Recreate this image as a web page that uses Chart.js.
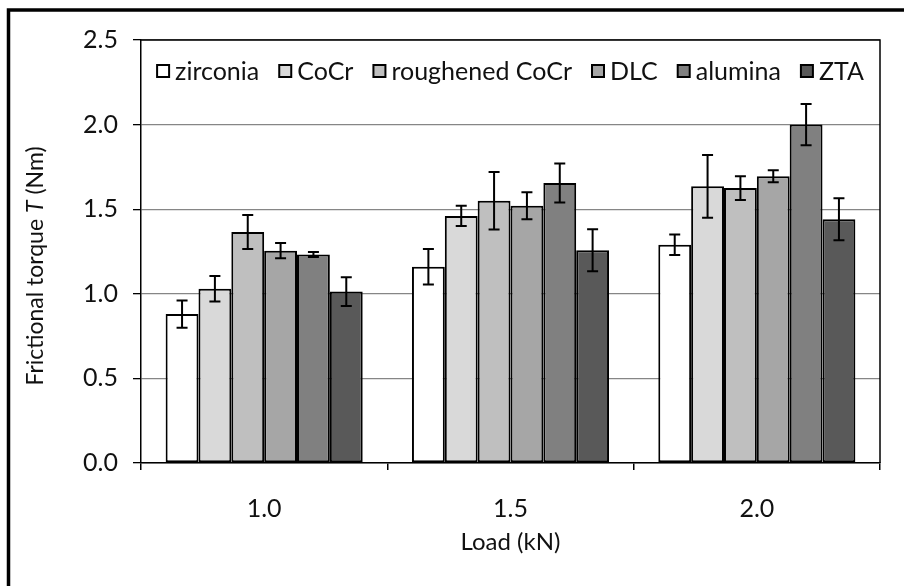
<!DOCTYPE html>
<html>
<head>
<meta charset="utf-8">
<script src="https://cdn.jsdelivr.net/npm/chart.js@4/dist/chart.umd.min.js"></script>
<style>
  html, body { margin: 0; padding: 0; background: #fff; }
  #chart { display: block; }
</style>
</head>
<body>
<canvas id="chart" width="904" height="586"></canvas>
<script>
// Loads (kN) on the x axis
const loads = ['1.0', '1.5', '2.0'];

// Mean frictional torque (Nm) per material
const zirconia = [0.88, 1.16, 1.29];
const cocr = [1.03, 1.46, 1.635];
const roughenedCocr = [1.365, 1.55, 1.625];
const dlc = [1.255, 1.52, 1.695];
const alumina = [1.232, 1.655, 2.0];
const zta = [1.013, 1.257, 1.44];

// Error bar half-lengths (Nm)
const zirconiaErr = [0.08, 0.105, 0.06];
const cocrErr = [0.075, 0.06, 0.185];
const roughenedCocrErr = [0.10, 0.17, 0.07];
const dlcErr = [0.045, 0.08, 0.035];
const aluminaErr = [0.015, 0.115, 0.122];
const ztaErr = [0.085, 0.124, 0.124];

const yTicks = [0, 0.5, 1.0, 1.5, 2.0, 2.5];

const FONT = 'Lato, "Open Sans", sans-serif';
const TEXT = '#111';

function series(label, data, err, color) {
    return {
        label: label,
        data: data,
        errors: err,
        backgroundColor: color,
        borderColor: '#000',
        borderWidth: 2,
        borderSkipped: false,
        barPercentage: 1.0,
        categoryPercentage: 0.8
    };
}

// legend inside the plot, error bars, frames and axis titles
const extras = {
    id: 'extras',
    afterDatasetsDraw(chart) {
        const ctx = chart.ctx;
        const y = chart.scales.y;
        ctx.save();
        ctx.strokeStyle = '#000';
        ctx.lineWidth = 2;
        chart.data.datasets.forEach((ds, i) => {
            const meta = chart.getDatasetMeta(i);
            meta.data.forEach((bar, j) => {
                const e = ds.errors[j];
                const top = y.getPixelForValue(ds.data[j] + e);
                const bot = y.getPixelForValue(ds.data[j] - e);
                ctx.beginPath();
                ctx.moveTo(bar.x, top);
                ctx.lineTo(bar.x, bot);
                ctx.moveTo(bar.x - 5.5, top);
                ctx.lineTo(bar.x + 5.5, top);
                ctx.moveTo(bar.x - 5.5, bot);
                ctx.lineTo(bar.x + 5.5, bot);
                ctx.stroke();
            });
        });
        ctx.restore();
    },
    afterDraw(chart) {
        const ctx = chart.ctx;
        const a = chart.chartArea;
        ctx.save();
        // plot frame (top and right)
        ctx.strokeStyle = '#000';
        ctx.lineWidth = 1.5;
        ctx.beginPath();
        ctx.moveTo(a.left, a.top);
        ctx.lineTo(a.right, a.top);
        ctx.lineTo(a.right, a.bottom);
        ctx.stroke();

        // outer frame (left and top only, as in the cropped figure)
        ctx.lineWidth = 3.5;
        ctx.beginPath();
        ctx.moveTo(8.5, 586);
        ctx.lineTo(8.5, 10);
        ctx.lineTo(904, 10);
        ctx.stroke();

        // legend row
        const box = 12, textGap = 6, itemGap = 20, legendY = 71;
        ctx.font = '25px ' + FONT;
        const items = chart.data.datasets.map(ds => ({
            label: ds.label,
            color: ds.backgroundColor,
            w: box + textGap + ctx.measureText(ds.label).width
        }));
        const total = items.reduce((s, it) => s + it.w, 0) + itemGap * (items.length - 1);
        let lx = (a.left + a.right) / 2 - total / 2;
        ctx.textAlign = 'left';
        ctx.textBaseline = 'middle';
        ctx.lineWidth = 2;
        items.forEach(it => {
            ctx.fillStyle = it.color;
            ctx.fillRect(lx, legendY - box / 2, box, box);
            ctx.strokeRect(lx, legendY - box / 2, box, box);
            ctx.fillStyle = TEXT;
            ctx.fillText(it.label, lx + box + textGap, legendY + 1);
            lx += it.w + itemGap;
        });

        // x title
        ctx.fillStyle = TEXT;
        ctx.font = '24px ' + FONT;
        ctx.textAlign = 'center';
        ctx.fillText('Load (kN)', (a.left + a.right) / 2, 542);

        // y title with italic T
        const parts = [
            ['Frictional torque ', '23px ' + FONT],
            ['T', 'italic 23px ' + FONT],
            [' (Nm)', '23px ' + FONT]
        ];
        let len = 0;
        parts.forEach(p => { ctx.font = p[1]; len += ctx.measureText(p[0]).width; });
        ctx.translate(36, 266);
        ctx.rotate(-Math.PI / 2);
        ctx.textAlign = 'left';
        let x = -len / 2;
        parts.forEach(p => {
            ctx.font = p[1];
            ctx.fillText(p[0], x, 0);
            x += ctx.measureText(p[0]).width;
        });
        ctx.restore();
    }
};

new Chart(document.getElementById('chart'), {
    type: 'bar',
    data: {
        labels: loads,
        datasets: [
            series('zirconia', zirconia, zirconiaErr, '#ffffff'),
            series('CoCr', cocr, cocrErr, '#d9d9d9'),
            series('roughened CoCr', roughenedCocr, roughenedCocrErr, '#bfbfbf'),
            series('DLC', dlc, dlcErr, '#a6a6a6'),
            series('alumina', alumina, aluminaErr, '#808080'),
            series('ZTA', zta, ztaErr, '#595959')
        ]
    },
    options: {
        responsive: false,
        animation: false,
        layout: { padding: { left: 0, top: 40, right: 24, bottom: 0 } },
        plugins: {
            tooltip: { enabled: false },
            legend: { display: false }
        },
        scales: {
            x: {
                afterFit: s => { s.height = 123; },
                grid: {
                    offset: true,
                    drawOnChartArea: false,
                    drawTicks: true,
                    tickLength: 7,
                    color: '#000',
                    lineWidth: 1.5
                },
                border: { display: true, color: '#000', width: 1.5 },
                ticks: { color: TEXT, padding: 24, font: { family: FONT, size: 25 } }
            },
            y: {
                min: 0,
                max: 2.5,
                afterFit: s => { s.width = 141; },
                afterBuildTicks: s => { s.ticks = yTicks.map(v => ({ value: v })); },
                grid: {
                    color: '#868686',
                    lineWidth: 1.3,
                    tickColor: '#000',
                    tickLength: 8
                },
                border: { display: true, color: '#000', width: 1.5 },
                ticks: {
                    color: TEXT,
                    padding: 15,
                    font: { family: FONT, size: 25 },
                    callback: v => Number(v).toFixed(1)
                }
            }
        }
    },
    plugins: [extras]
});
</script>
</body>
</html>
